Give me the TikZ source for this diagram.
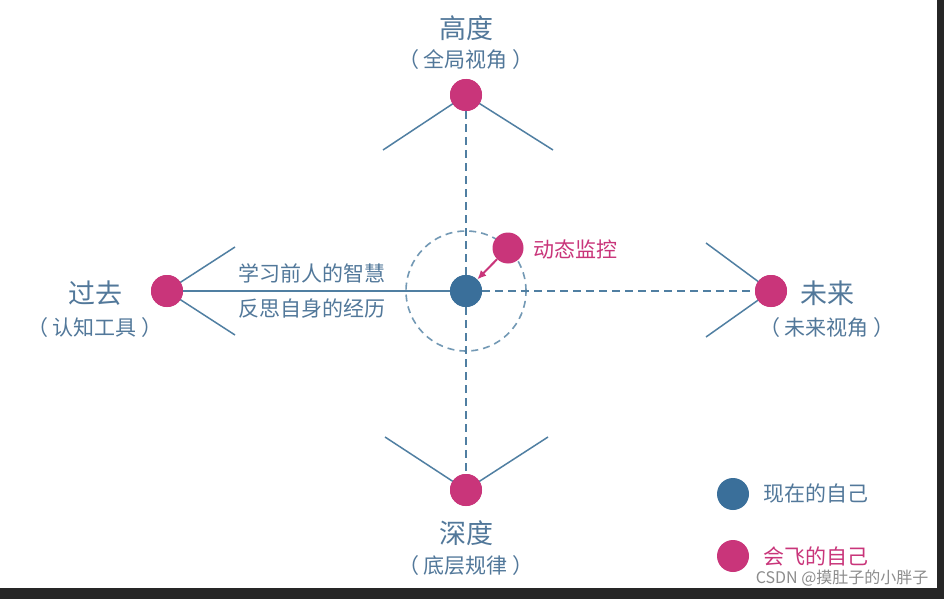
\documentclass[tikz,border=0pt]{standalone}
\usepackage{fontspec}
\usetikzlibrary{arrows.meta}
\newfontfamily\cjk{Noto Sans CJK SC}
\definecolor{cblue}{HTML}{3A6F9A}
\definecolor{cpink}{HTML}{C9357A}
\definecolor{cline}{HTML}{507FA2}
\definecolor{ctext}{HTML}{52789A}
\begin{document}
\begin{tikzpicture}[x=1pt,y=-1pt,
  dot/.style={circle,inner sep=0pt,minimum size=#1},
  pinkdot/.style={dot=32pt,fill=cpink},
  bluedot/.style={dot=32pt,fill=cblue},
  ln/.style={draw=cline,line width=1.5pt},
  dl/.style={draw=cline,line width=1.8pt,dash pattern=on 8pt off 5pt},
  big/.style={font=\cjk\fontsize{27}{30}\selectfont,text=ctext},
  small/.style={font=\cjk\fontsize{21}{24}\selectfont,text=ctext}]
\fill[white] (0,0) rectangle (944,599);
\fill[black!85] (937,0) rectangle (944,599);
\fill[black!85] (0,588) rectangle (944,599);
\useasboundingbox (0,0) rectangle (944,599);
\node[dot=120pt,draw=cline!80,line width=1.6pt,dash pattern=on 7pt off 5pt] (ring) at (466,291) {};
\node[bluedot] (c) at (466,291) {};
\node[pinkdot] (t) at (466,95) {};
\node[pinkdot] (l) at (167,291) {};
\node[pinkdot] (r) at (771,291) {};
\node[pinkdot] (b) at (466,490) {};
\node[dot=31pt,fill=cpink] (m) at (508,248) {};
\draw[dl] (c) -- (t);
\draw[dl] (c) -- (r);
\draw[dl] (c) -- (b);
\draw[ln] (c) -- (l);
\coordinate (t1) at (383,150); \coordinate (t2) at (553,150);
\coordinate (l1) at (235,247); \coordinate (l2) at (235,335);
\coordinate (r1) at (706,243); \coordinate (r2) at (706,337);
\coordinate (b1) at (385,437); \coordinate (b2) at (548,437);
\draw[ln] (t1) -- (t.center) -- (t2);
\draw[ln] (l1) -- (l.center) -- (l2);
\draw[ln] (r1) -- (r.center) -- (r2);
\draw[ln] (b1) -- (b.center) -- (b2);
\node[pinkdot] at (466,95) {};
\node[pinkdot] at (167,291) {};
\node[pinkdot] at (771,291) {};
\node[pinkdot] at (466,490) {};
\node[bluedot] at (466,291) {};
\draw[cpink,line width=2pt,-{Latex[length=9pt,width=8pt]}] (m) -- (c);
\node[big] (tl) at (466,28) {高度};
\node[small] (ts) at (466,60) {（ 全局视角 ）};
\node[big] (ll) at (95,293) {过去};
\node[small] (ls) at (95,328) {（ 认知工具 ）};
\node[big] (rl) at (827,293) {未来};
\node[small] (rs) at (827,328) {（ 未来视角 ）};
\node[big] (bl) at (466,533) {深度};
\node[small] (bs) at (466,566) {（ 底层规律 ）};
\node[small] (s1) at (312,273) {学习前人的智慧};
\node[small] (s2) at (312,309) {反思自身的经历};
\node[small,text=cpink,anchor=west] (ml) at (530,249) {动态监控};
\node[bluedot] (lg1) at (733,494) {};
\node[small,anchor=west] (lt1) at (760,494) {现在的自己};
\node[pinkdot] (lg2) at (733,556) {};
\node[small,anchor=west,text=cpink] (lt2) at (760,556) {会飞的自己};
\node[font=\cjk\fontsize{16}{18}\selectfont,text=black!45,anchor=east] (wm) at (932,578) {CSDN @摸肚子的小胖子};
\end{tikzpicture}
\end{document}
